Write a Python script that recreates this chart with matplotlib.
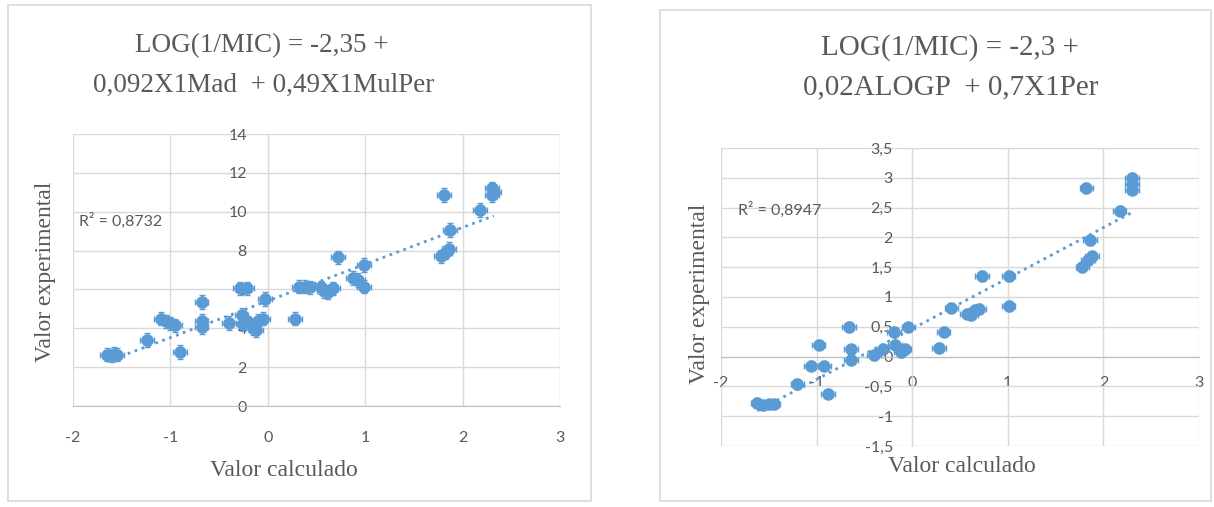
import numpy as np
import matplotlib
matplotlib.use("Agg")
import matplotlib.pyplot as plt
from matplotlib.patches import Rectangle

# Left chart: Valor calculado vs Valor experimental
left_x = [-1.65, -1.60, -1.55, -1.58, -1.24, -1.10, -1.05, -1.00, -0.95, -0.90,
          -0.68, -0.68, -0.68, -0.40, -0.29, -0.21, -0.27, -0.25, -0.20, -0.15,
          -0.10, -0.05, -0.12, -0.03, 0.28, 0.32, 0.38, 0.43, 0.55, 0.58,
          0.62, 0.67, 0.72, 0.87, 0.93, 0.99, 0.99, 1.78, 1.82, 1.86,
          1.87, 1.81, 2.18, 2.30, 2.32, 2.30]
left_y = [2.65, 2.60, 2.65, 2.70, 3.40, 4.50, 4.35, 4.25, 4.15, 2.78,
          5.35, 4.40, 4.05, 4.27, 6.05, 6.05, 4.70, 4.20, 4.30, 4.00,
          4.40, 4.50, 3.90, 5.50, 4.50, 6.15, 6.15, 6.10, 6.10, 5.90,
          5.85, 6.05, 7.65, 6.60, 6.50, 7.25, 6.15, 7.70, 7.90, 8.10,
          9.05, 10.85, 10.10, 11.20, 11.00, 10.85]
left_title = ["LOG(1/MIC) = -2,35 +", "0,092X1Mad  + 0,49X1MulPer"]
left_r2 = "R² = 0,8732"
left_xticks = [-2, -1, 0, 1, 2, 3]
left_yticks = [0, 2, 4, 6, 8, 10, 12, 14]
left_ytick_labels = ["0", "2", "4", "6", "8", "10", "12", "14"]

# Right chart
right_x = [-1.62, -1.56, -1.50, -1.45, -1.20, -1.06, -0.98, -0.92, -0.88, -0.66,
           -0.64, -0.64, -0.40, -0.31, -0.19, -0.18, -0.12, -0.08, -0.04, 0.28,
           0.33, 0.41, 0.57, 0.62, 0.66, 0.70, 0.73, 1.01, 1.01, 1.78,
           1.84, 1.88, 1.86, 1.82, 2.17, 2.30, 2.30, 2.30]
right_y = [-0.78, -0.82, -0.80, -0.80, -0.46, -0.15, 0.20, -0.15, -0.62, 0.50,
           0.12, -0.05, 0.03, 0.12, 0.42, 0.20, 0.07, 0.12, 0.49, 0.15,
           0.42, 0.82, 0.72, 0.70, 0.78, 0.80, 1.35, 1.35, 0.85, 1.51,
           1.62, 1.68, 1.96, 2.83, 2.45, 3.00, 2.90, 2.80]
right_title = ["LOG(1/MIC) = -2,3 +", "0,02ALOGP  + 0,7X1Per"]
right_r2 = "R² = 0,8947"
right_xticks = [-2, -1, 0, 1, 2, 3]
right_yticks = [-1.5, -1, -0.5, 0, 0.5, 1, 1.5, 2, 2.5, 3, 3.5]
right_ytick_labels = ["-1,5", "-1", "-0,5", "0", "0,5", "1", "1,5", "2", "2,5", "3", "3,5"]

xlabel = "Valor calculado"
ylabel = "Valor experimental"

BLUE = "#5B9BD5"
GRAY = "#595959"
GRID = "#D9D9D9"
SERIF = "Liberation Serif"
SANS = "Lato"

W, H = 1214, 507
fig = plt.figure(figsize=(W / 100, H / 100), dpi=100)


def fx(px):
    return px / W


def fy(py):
    return (H - py) / H


def box(x0, y0, x1, y1):
    fig.patches.append(Rectangle((fx(x0), fy(y1)), fx(x1) - fx(x0), fy(y0) - fy(y1),
                                 transform=fig.transFigure, fill=False,
                                 edgecolor=GRID, lw=1.2))


def panel(rect, xs, ys, xticks, yticks, ylabels, ylim, xerr, yerr, ypad, xpad):
    ax = fig.add_axes(rect)
    ax.errorbar(xs, ys, xerr=xerr, yerr=yerr, fmt="o", ms=8, color=BLUE,
                ecolor=BLUE, elinewidth=1, capsize=2.5, zorder=3)
    # linear trendline, dotted as in Excel
    k, b = np.polyfit(xs, ys, 1)
    tx = np.array([min(xs), max(xs)])
    ax.plot(tx, k * tx + b, ":", color=BLUE, lw=2, zorder=4)
    ax.set_xlim(-2, 3)
    ax.set_ylim(*ylim)
    ax.set_xticks(xticks)
    ax.set_xticklabels([str(t) for t in xticks])
    ax.set_yticks(yticks)
    ax.set_yticklabels(ylabels)
    ax.grid(True, color=GRID, lw=1)
    ax.set_axisbelow(True)
    for s in ["top", "right"]:
        ax.spines[s].set_visible(False)
    ax.spines["left"].set_position(("data", 0))
    ax.spines["bottom"].set_position(("data", 0))
    ax.spines["left"].set_color(GRID)
    ax.spines["bottom"].set_color("#BFBFBF")
    ax.tick_params(axis="y", length=0, pad=ypad, labelsize=11.5, labelcolor=GRAY)
    ax.tick_params(axis="x", length=0, pad=xpad, labelsize=11.5, labelcolor=GRAY)
    for lab in ax.get_xticklabels() + ax.get_yticklabels():
        lab.set_fontfamily(SANS)
    return ax


# left chart
box(8, 5, 591, 501)
axl = panel([fx(73), fy(406), fx(560) - fx(73), fy(134) - fy(406)],
            left_x, left_y, left_xticks, left_yticks, left_ytick_labels,
            (0, 14), 0.07, 0.35, 15, 18)
fig.text(fx(262), fy(46), left_title[0], ha="center", va="center",
         family=SERIF, size=19.5, color=GRAY)
fig.text(fx(264), fy(85), left_title[1], ha="center", va="center",
         family=SERIF, size=19.5, color=GRAY)
fig.text(fx(284), fy(470), xlabel, ha="center", va="center",
         family=SERIF, size=17, color=GRAY)
fig.text(fx(46), fy(272), ylabel, ha="center", va="center", rotation=90,
         family=SERIF, size=17, color=GRAY)
fig.text(fx(79), fy(221), left_r2, ha="left", va="center",
         family=SANS, size=11.5, color=GRAY)

# right chart
box(660, 10, 1211, 501)
axr = panel([fx(721), fy(446), fx(1199) - fx(721), fy(148) - fy(446)],
            right_x, right_y, right_xticks, right_yticks, right_ytick_labels,
            (-1.5, 3.5), 0.07, 0.08, 14, 14)
fig.text(fx(950), fy(48), right_title[0], ha="center", va="center",
         family=SERIF, size=21, color=GRAY)
fig.text(fx(951), fy(87), right_title[1], ha="center", va="center",
         family=SERIF, size=21, color=GRAY)
fig.text(fx(962), fy(466), xlabel, ha="center", va="center",
         family=SERIF, size=17, color=GRAY)
fig.text(fx(699), fy(294), ylabel, ha="center", va="center", rotation=90,
         family=SERIF, size=17, color=GRAY)
fig.text(fx(738), fy(210), right_r2, ha="left", va="center",
         family=SANS, size=11.5, color=GRAY)

fig.savefig("out.png", dpi=100)
